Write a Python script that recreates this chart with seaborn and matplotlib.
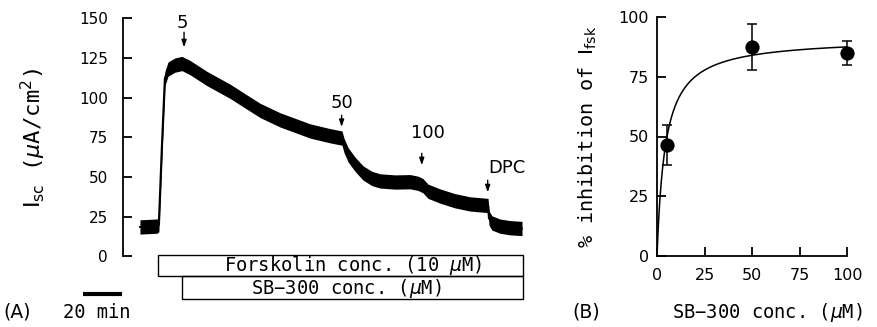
import numpy as np
import pandas as pd
import matplotlib
matplotlib.use("Agg")
import matplotlib.pyplot as plt
from matplotlib.patches import Rectangle
import seaborn as sns

# ---------------- data ----------------
# Panel A: short-circuit current trace (time in min, Isc in uA/cm2)
trace_time = [0.0, 8.7, 9.7, 11.3, 12.8, 14.4, 17.9, 21.5, 25.6, 34.4, 46.2,
              61.5, 71.8, 87.2, 97.4, 103.6, 104.6, 106.7, 110.3, 114.4, 119.0,
              123.1, 130.8, 138.5, 142.6, 145.1, 147.7, 153.8, 161.5, 169.2,
              178.5, 179.0, 180.5, 184.6, 189.7, 195.9]
trace_isc = [18.5, 19.0, 20.0, 70.0, 112.0, 118.0, 120.5, 121.5, 119.0, 112.0,
             104.0, 92.0, 86.0, 79.0, 76.0, 74.5, 70.0, 64.0, 58.0, 52.5, 49.0,
             47.5, 46.8, 47.0, 46.0, 44.5, 41.0, 38.0, 35.0, 33.0, 32.0, 24.0,
             21.0, 19.0, 18.0, 17.5]
trace_noise = 4.5  # half-amplitude of the recording noise

addition_labels = ["5", "50", "100", "DPC"]
addition_times = [22.6, 103.4, 144.5, 178.3]

forskolin_start, sb300_start, treatment_end = 9.2, 21.3, 196.4
scalebar_minutes = 20

a_yticks = [0, 25, 50, 75, 100, 125, 150]

# Panel B: concentration-response
sb_conc = [5, 50, 100]
inhibition_mean = [46.5, 87.5, 85.0]
inhibition_err = [8.5, 9.5, 5.0]
fit_vmax, fit_k = 91.3, 4.35
b_ticks = [0, 25, 50, 75, 100]

# ---------------- style ----------------
sns.set_theme(style="ticks")
plt.rcParams["font.family"] = ["DejaVu Sans"]
plt.rcParams["mathtext.fontset"] = "dejavusans"
plt.rcParams["axes.linewidth"] = 1.3
for k in ["text.color", "axes.labelcolor", "xtick.color", "ytick.color",
          "axes.edgecolor"]:
    plt.rcParams[k] = "black"

MONO = ["DejaVu Sans Mono", "DejaVu Sans"]
FS_TICK_A = 11
FS_TICK_B = 11.5
FS_LAB = 13.5
FS_ARR = 13

W, H = 877, 327
fig = plt.figure(figsize=(W / 100, H / 100), dpi=100)

def px(x, y):
    return x / W, 1 - y / H

# ---------------- Panel A ----------------
axA = fig.add_axes([123 / W, 1 - 300.7 / H, 407 / W, 282.4 / H])
df = pd.DataFrame({"t": trace_time, "isc": trace_isc})
lo = np.array(trace_isc) - trace_noise
hi = np.array(trace_isc) + trace_noise
axA.fill_between(trace_time, lo, hi, color="black", lw=0)
sns.lineplot(data=df, x="t", y="isc", ax=axA, color="black", lw=1.6,
             sort=False, estimator=None)
axA.set_xlim(-8.7, 200)
axA.set_ylim(-28, 150)
for s in ["top", "right", "bottom"]:
    axA.spines[s].set_visible(False)
axA.spines["left"].set_bounds(0, 150)
axA.set_yticks(a_yticks)
axA.set_xticks([])
axA.tick_params(axis="y", direction="in", length=6.5, width=1.3,
                labelsize=FS_TICK_A, pad=11)
axA.set_xlabel("")
axA.set_ylabel("")

# arrows marking additions
arrow_geo = {"5": (141.2, 131.7, 21.8, 143.7, "center"),
             "50": (88.9, 81.5, 103.8, 93.3, "center"),
             "100": (64.9, 57.4, 147.7, 74.4, "center"),
             "DPC": (47.9, 40.3, 178.5, 52.3, "left")}
for lab, t in zip(addition_labels, addition_times):
    y0, y1, tx, ty, ha = arrow_geo[lab]
    axA.annotate("", xy=(t, y1), xytext=(t, y0),
                 arrowprops=dict(arrowstyle="-|>,head_length=0.35,head_width=0.12",
                                 lw=1.0, color="black", shrinkA=0, shrinkB=0))
    axA.text(tx, ty, lab, ha=ha, va="baseline", fontsize=FS_ARR)

# treatment bars
axA.add_patch(Rectangle((forskolin_start, -12.4), treatment_end - forskolin_start,
                        13.5, fill=False, lw=1.0, ec="black", clip_on=False))
axA.add_patch(Rectangle((sb300_start, -26.7), treatment_end - sb300_start,
                        14.3, fill=False, lw=1.0, ec="black", clip_on=False))
axA.text(109.5, -6.0, r"Forskolin conc. (10 $\mu$M)", ha="center", va="center",
         fontsize=FS_LAB, family=MONO)
axA.text(106.0, -20.0, "SB\u2212300 conc. (" + r"$\mu$" + "M)", ha="center",
         va="center", fontsize=FS_LAB, family=MONO)

# scale bar
axA.plot([-29.2, -29.2 + scalebar_minutes], [-23.6, -23.6], color="black",
         lw=3, clip_on=False, solid_capstyle="butt")

fig.text(*px(33, 138), r"$\mathrm{I}_{\mathrm{sc}}$ ($\mu$A/cm$^{2}$)",
         rotation=90, ha="center", va="center", fontsize=16, family=MONO)
fig.text(*px(17, 318), "(A)", ha="center", va="baseline", fontsize=FS_LAB)
fig.text(*px(97, 318), "20 min", ha="center", va="baseline", fontsize=FS_LAB,
         family=MONO)

# ---------------- Panel B ----------------
axB = fig.add_axes([657 / W, 1 - 256 / H, 190 / W, 239 / H])
xs = np.linspace(0, 100, 400)
fit_df = pd.DataFrame({"c": xs, "inh": fit_vmax * xs / (fit_k + xs)})
sns.lineplot(data=fit_df, x="c", y="inh", ax=axB, color="black", lw=1.1)
axB.errorbar(sb_conc, inhibition_mean, yerr=inhibition_err, fmt="none",
             ecolor="black", elinewidth=1.1, capsize=3.6, capthick=1.1,
             clip_on=False)
pts = pd.DataFrame({"c": sb_conc, "m": inhibition_mean})
sns.scatterplot(data=pts, x="c", y="m", ax=axB, color="black", s=105,
                edgecolor="black", linewidth=0, zorder=5, clip_on=False)
axB.set_xlim(0, 100)
axB.set_ylim(0, 100)
axB.set_xticks(b_ticks)
axB.set_yticks(b_ticks)
for s in ["top", "right"]:
    axB.spines[s].set_visible(False)
axB.tick_params(axis="both", direction="in", length=6.5, width=1.3,
                labelsize=FS_TICK_B)
axB.tick_params(axis="y", pad=6)
axB.tick_params(axis="x", pad=9)
axB.set_xlabel("")
axB.set_ylabel("")

fig.text(*px(588, 137), r"% inhibition of $\mathrm{I}_{\mathrm{fsk}}$",
         rotation=90, ha="center", va="center", fontsize=14.5, family=MONO)
fig.text(*px(586, 318), "(B)", ha="center", va="baseline", fontsize=FS_LAB)
fig.text(*px(767, 318), "SB\u2212300 conc. (" + r"$\mu$" + "M)", ha="center",
         va="baseline", fontsize=FS_LAB, family=MONO)

fig.savefig("out.png", dpi=100)
